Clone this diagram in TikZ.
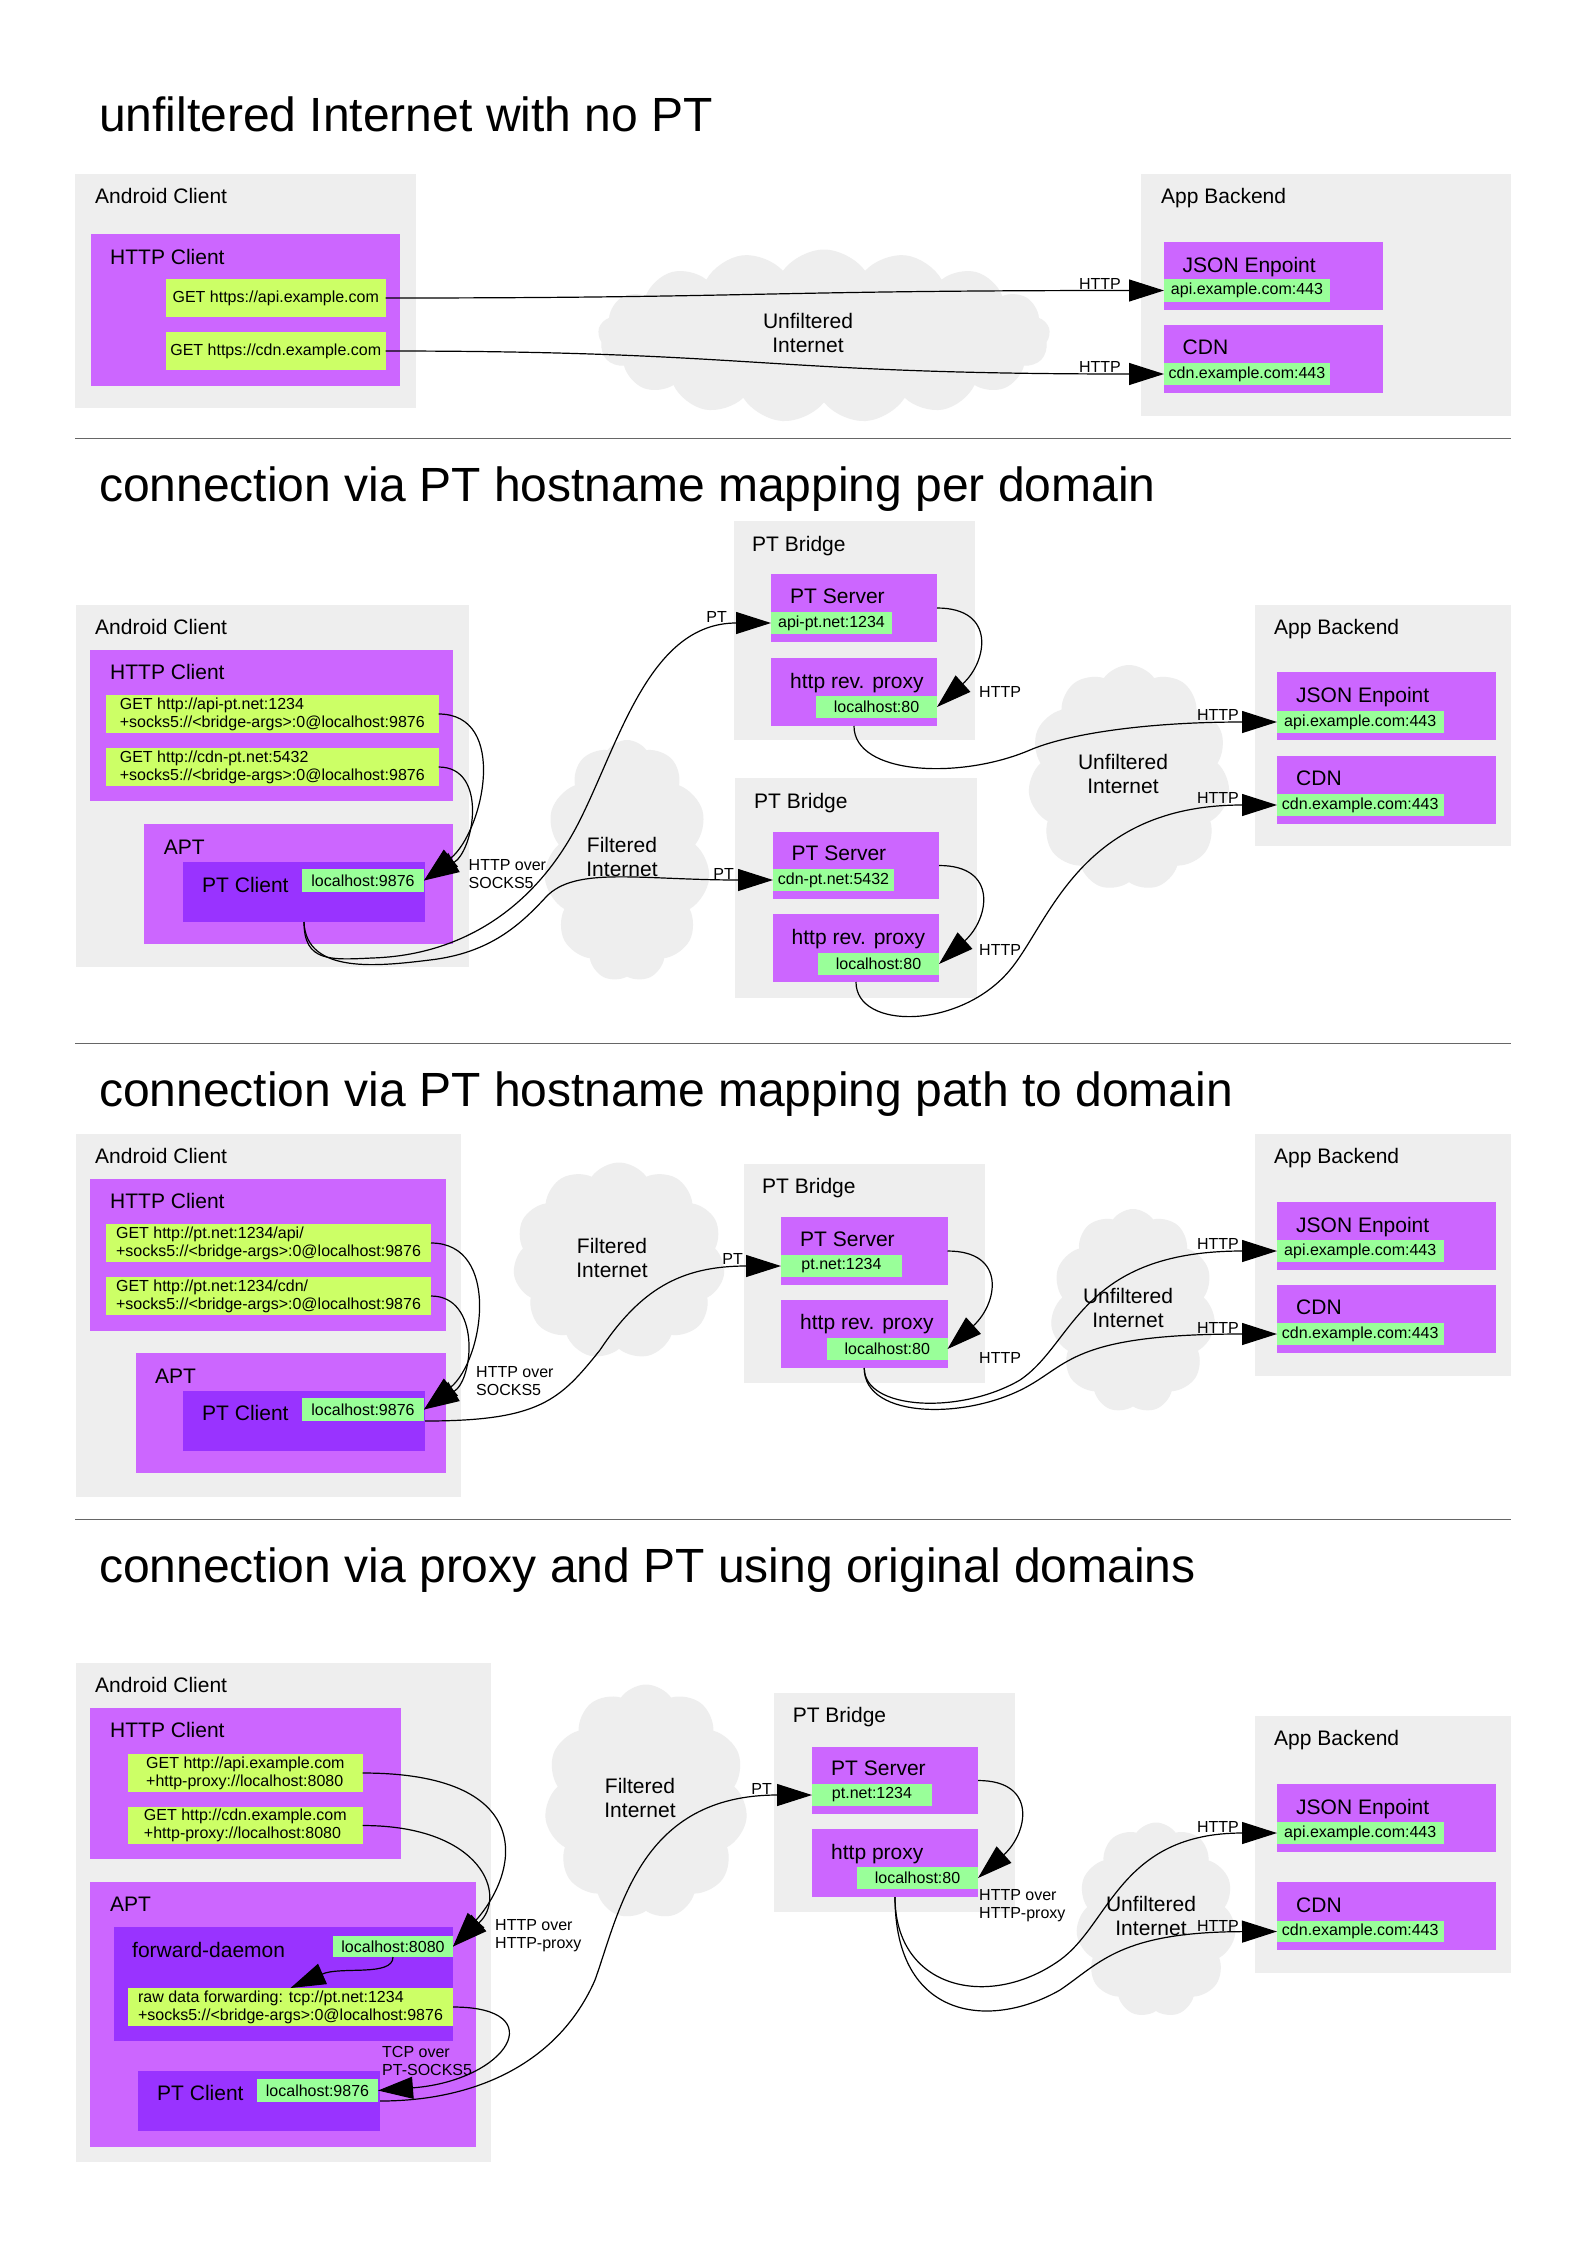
\documentclass[tikz,border=0pt]{standalone}
\usepackage{fontspec}
\setmainfont{Liberation Sans}
\usetikzlibrary{arrows.meta,shapes.symbols}
\definecolor{cgrey}{HTML}{EEEEEE}
\definecolor{cpurp}{HTML}{CC66FF}
\definecolor{cdark}{HTML}{9933FF}
\definecolor{cyel}{HTML}{CCFF66}
\definecolor{cgreen}{HTML}{99FF99}
\definecolor{csep}{HTML}{666666}
\newcommand\mkbox[7]{\node[#1,anchor=north west,inner sep=0pt,outer sep=0pt,minimum width={#5-#3},minimum height={#6-#4}] (#2) at (#3,#4) {#7};}
\tikzset{
 grp/.style={fill=cgrey},
 purp/.style={fill=cpurp},
 dark/.style={fill=cdark},
 yel/.style={fill=cyel,align=left,font=\fontsize{16}{18}\selectfont},
 grn/.style={fill=cgreen,font=\fontsize{16}{18}\selectfont},
 lbl/.style={anchor=base west,inner sep=0pt,font=\fontsize{21}{24}\selectfont},
 ttl/.style={anchor=base west,inner sep=0pt,font=\fontsize{48}{56}\selectfont},
 elbl/.style={anchor=base east,inner sep=0pt,font=\fontsize{16}{18}\selectfont},
 elblw/.style={anchor=base west,inner sep=0pt,font=\fontsize{16}{18}\selectfont},
 elbltwo/.style={anchor=north west,inner sep=0pt,align=left,font=\fontsize{16}{18}\selectfont},
 cld/.style={cloud,cloud puffs=11,cloud puff arc=110,cloud ignores aspect,fill=cgrey,draw=none,inner sep=0pt},
 cldtxt/.style={inner sep=0pt,align=center,font=\fontsize{21}{23.5}\selectfont},
 conn/.style={draw=black,line width=1.2pt,-{Triangle[length=35pt,width=22pt]}},
 sepline/.style={draw=csep,line width=1.5pt},
}
\begin{document}
\begin{tikzpicture}[x=1pt,y=-1pt]
\useasboundingbox (0,0) rectangle (1588,2246);
\fill[white] (0,0) rectangle (1588,2246);

% ---------------- titles and separators
\node[ttl] (t1) at (99,131) {unfiltered Internet with no PT};
\node[ttl] (t2) at (99,501.7) {connection via PT hostname mapping per domain};
\node[ttl] (t3) at (99,1106) {connection via PT hostname mapping path to domain};
\node[ttl] (t4) at (99,1582.7) {connection via proxy and PT using original domains};
\coordinate (s1a) at (75,438.3); \coordinate (s1b) at (1511,438.3);
\coordinate (s2a) at (75,1043.3); \coordinate (s2b) at (1511,1043.3);
\coordinate (s3a) at (75,1519.3); \coordinate (s3b) at (1511,1519.3);
\draw[sepline] (s1a) -- (s1b);
\draw[sepline] (s2a) -- (s2b);
\draw[sepline] (s3a) -- (s3b);

% ---------------- clusters
\mkbox{grp}{ac1}{75}{174}{416}{408}{}
\mkbox{grp}{ab1}{1141}{174}{1511}{416}{}
\mkbox{grp}{ac2}{75.6}{605}{468.5}{967}{}
\mkbox{grp}{br2a}{733.7}{521}{975}{740}{}
\mkbox{grp}{br2b}{735}{778}{977}{998}{}
\mkbox{grp}{ab2}{1255}{605}{1511}{846}{}
\mkbox{grp}{ac3}{75.6}{1134}{461}{1497}{}
\mkbox{grp}{br3}{744}{1164}{985}{1383}{}
\mkbox{grp}{ab3}{1255}{1134}{1511}{1376}{}
\mkbox{grp}{ac4}{75.6}{1663}{491}{2162}{}
\mkbox{grp}{br4}{774}{1693}{1015}{1912}{}
\mkbox{grp}{ab4}{1255}{1716}{1511}{1973}{}

% ---------------- clouds
\node[cld,cloud puffs=17,minimum width=452pt,minimum height=173pt] (cl1) at (824,336) {};
\node[cld,minimum width=166pt,minimum height=242pt] (cl2) at (627,861) {};
\node[cld,minimum width=202pt,minimum height=226pt] (cl3) at (1129,778) {};
\node[cld,minimum width=212pt,minimum height=197pt] (cl4) at (619,1261) {};
\node[cld,minimum width=165pt,minimum height=204pt] (cl5) at (1133,1311) {};
\node[cld,minimum width=203pt,minimum height=235pt] (cl6) at (646,1802) {};
\node[cld,minimum width=160pt,minimum height=195pt] (cl7) at (1156,1920) {};
\node[cldtxt] (cl1t) at (808,333) {Unfiltered\\Internet};
\node[cldtxt] (cl2t) at (622,857) {Filtered\\Internet};
\node[cldtxt] (cl3t) at (1123,774) {Unfiltered\\Internet};
\node[cldtxt] (cl4t) at (612,1258) {Filtered\\Internet};
\node[cldtxt] (cl5t) at (1128,1308) {Unfiltered\\Internet};
\node[cldtxt] (cl6t) at (640,1798) {Filtered\\Internet};
\node[cldtxt] (cl7t) at (1151,1916) {Unfiltered\\Internet};

% ---------------- section 1 boxes
\mkbox{purp}{hc1}{91}{234}{400}{386}{}
\mkbox{yel}{g1a}{166}{279}{385.5}{317}{GET https://api.example.com}
\mkbox{yel}{g1b}{166}{332}{385.5}{370}{GET https://cdn.example.com}
\mkbox{purp}{je1}{1164}{242}{1383}{310}{}
\mkbox{grn}{api1}{1164}{279}{1330}{302}{api.example.com:443}
\mkbox{purp}{cd1}{1164}{325}{1383}{393}{}
\mkbox{grn}{cdn1}{1164}{363}{1330}{385}{cdn.example.com:443}

% ---------------- section 2 boxes
\mkbox{purp}{hc2}{90}{650}{453}{801}{}
\mkbox{yel}{g2a}{106}{695}{438.6}{733}{GET http://api-pt.net:1234\\+socks5://<bridge-args>:0@localhost:9876}
\mkbox{yel}{g2b}{106}{748}{438.6}{786}{GET http://cdn-pt.net:5432\\+socks5://<bridge-args>:0@localhost:9876}
\mkbox{purp}{apt2}{143.5}{824}{453}{944}{}
\mkbox{dark}{ptc2}{183}{862}{425}{922}{}
\mkbox{grn}{lh2}{302}{869}{424}{892}{localhost:9876}
\mkbox{purp}{ps2a}{771}{574}{937}{642}{}
\mkbox{grn}{pg2a}{771}{612}{892}{634}{api-pt.net:1234}
\mkbox{purp}{rp2a}{771}{658}{937}{726}{}
\mkbox{grn}{lg2a}{816}{696}{937}{718}{localhost:80}
\mkbox{purp}{ps2b}{773}{832}{939}{899}{}
\mkbox{grn}{pg2b}{773}{869}{894}{891}{cdn-pt.net:5432}
\mkbox{purp}{rp2b}{773}{914}{939}{982}{}
\mkbox{grn}{lg2b}{818}{953}{939}{975}{localhost:80}
\mkbox{purp}{je2}{1277}{672}{1496}{740}{}
\mkbox{grn}{api2}{1277}{711}{1443.5}{733}{api.example.com:443}
\mkbox{purp}{cd2}{1277}{756}{1496}{824}{}
\mkbox{grn}{cdn2}{1277}{794}{1443.5}{816}{cdn.example.com:443}

% ---------------- section 3 boxes
\mkbox{purp}{hc3}{90}{1179}{446}{1331}{}
\mkbox{yel}{g3a}{106}{1224}{431}{1262}{GET http://pt.net:1234/api/\\+socks5://<bridge-args>:0@localhost:9876}
\mkbox{yel}{g3b}{106}{1277}{431}{1315}{GET http://pt.net:1234/cdn/\\+socks5://<bridge-args>:0@localhost:9876}
\mkbox{purp}{apt3}{136}{1353}{446}{1473}{}
\mkbox{dark}{ptc3}{183}{1391}{425}{1451}{}
\mkbox{grn}{lh3}{302}{1398}{424}{1421}{localhost:9876}
\mkbox{purp}{ps3}{781}{1217}{947.5}{1285}{}
\mkbox{grn}{pg3}{781}{1255}{902}{1277}{pt.net:1234}
\mkbox{purp}{rp3}{781}{1300}{947.5}{1368}{}
\mkbox{grn}{lg3}{827}{1338}{947.5}{1360}{localhost:80}
\mkbox{purp}{je3}{1277}{1202}{1496}{1270}{}
\mkbox{grn}{api3}{1277}{1240}{1443.5}{1262}{api.example.com:443}
\mkbox{purp}{cd3}{1277}{1285}{1496}{1353}{}
\mkbox{grn}{cdn3}{1277}{1323}{1443.5}{1345}{cdn.example.com:443}

% ---------------- section 4 boxes
\mkbox{purp}{hc4}{90}{1708}{400.6}{1859}{}
\mkbox{yel}{g4a}{128}{1754}{362.7}{1792}{GET http://api.example.com\\+http-proxy://localhost:8080}
\mkbox{yel}{g4b}{128}{1807}{362.7}{1844}{GET http://cdn.example.com\\+http-proxy://localhost:8080}
\mkbox{purp}{apt4}{90}{1882}{476}{2147}{}
\mkbox{dark}{fd4}{113.6}{1927}{453}{2041}{}
\mkbox{grn}{lh8}{333}{1936}{453}{1957}{localhost:8080}
\mkbox{yel}{raw4}{128}{1988}{453}{2026}{raw data forwarding: tcp://pt.net:1234\\+socks5://<bridge-args>:0@localhost:9876}
\mkbox{dark}{ptc4}{138}{2071}{380}{2131}{}
\mkbox{grn}{lh4}{257}{2079}{378}{2102}{localhost:9876}
\mkbox{purp}{ps4}{812}{1747}{978}{1814}{}
\mkbox{grn}{pg4}{812}{1784}{932}{1806}{pt.net:1234}
\mkbox{purp}{hp4}{812}{1829}{978}{1897}{}
\mkbox{grn}{lg4}{857}{1867}{978}{1889}{localhost:80}
\mkbox{purp}{je4}{1277}{1784}{1496}{1852}{}
\mkbox{grn}{api4}{1277}{1822}{1443.5}{1844}{api.example.com:443}
\mkbox{purp}{cd4}{1277}{1882}{1496}{1950}{}
\mkbox{grn}{cdn4}{1277}{1921}{1443.5}{1942}{cdn.example.com:443}

% ---------------- box labels
\node[lbl] (l1) at (95,203.5) {Android Client};
\node[lbl] (l2) at (110,264.5) {HTTP Client};
\node[lbl] (l3) at (1161,203.5) {App Backend};
\node[lbl] (l4) at (1182.5,272.5) {JSON Enpoint};
\node[lbl] (l5) at (1182.5,354.5) {CDN};

\node[lbl] (l6) at (95,634) {Android Client};
\node[lbl] (l7) at (110,679.5) {HTTP Client};
\node[lbl] (l8) at (163.6,854.5) {APT};
\node[lbl] (l9) at (202,892.5) {PT Client};
\node[lbl] (l10) at (752,551.5) {PT Bridge};
\node[lbl] (l11) at (790,603.5) {PT Server};
\node[lbl] (l12) at (790,688.5) {http rev. proxy};
\node[lbl] (l13) at (754,808.5) {PT Bridge};
\node[lbl] (l14) at (791.5,860.5) {PT Server};
\node[lbl] (l15) at (791.5,944.5) {http rev. proxy};
\node[lbl] (l16) at (1274,634.5) {App Backend};
\node[lbl] (l17) at (1296,702.5) {JSON Enpoint};
\node[lbl] (l18) at (1296,785.5) {CDN};

\node[lbl] (l19) at (95,1163.5) {Android Client};
\node[lbl] (l20) at (110,1208.5) {HTTP Client};
\node[lbl] (l21) at (155,1383.5) {APT};
\node[lbl] (l22) at (202,1420.5) {PT Client};
\node[lbl] (l23) at (762,1193.5) {PT Bridge};
\node[lbl] (l24) at (800,1246.5) {PT Server};
\node[lbl] (l25) at (800,1329.5) {http rev. proxy};
\node[lbl] (l26) at (1274,1163.5) {App Backend};
\node[lbl] (l27) at (1296,1232.5) {JSON Enpoint};
\node[lbl] (l28) at (1296,1314.5) {CDN};

\node[lbl] (l29) at (95,1692.5) {Android Client};
\node[lbl] (l30) at (110,1737.5) {HTTP Client};
\node[lbl] (l31) at (110,1911.5) {APT};
\node[lbl] (l32) at (132,1957.5) {forward-daemon};
\node[lbl] (l33) at (157,2100.5) {PT Client};
\node[lbl] (l34) at (792.6,1722.5) {PT Bridge};
\node[lbl] (l35) at (831,1775.5) {PT Server};
\node[lbl] (l36) at (831,1859.5) {http proxy};
\node[lbl] (l37) at (1274,1745.5) {App Backend};
\node[lbl] (l38) at (1296,1814.5) {JSON Enpoint};
\node[lbl] (l39) at (1296,1912.5) {CDN};

% ---------------- connectors section 1
\draw[conn] (g1a.east) .. controls (760,298) and (760,290.5) .. (api1.west);
\draw[conn] (g1b.east) .. controls (760,351) and (760,374) .. (cdn1.west);

% ---------------- connectors section 2
\draw[conn] (g2a.east) .. controls +(70,0) and +(60,-50) .. (lh2.east);
\draw[conn] (g2b.east) .. controls +(50,0) and +(50,-30) .. (lh2.east);
\draw[conn] (ptc2.south) .. controls (304,962) and (330,960) .. (372,958) .. controls (470,955) and (540,900) .. (580,820) .. controls (620,740) and (650,623) .. (pg2a.west);
\draw[conn] (ptc2.south) .. controls (306,975) and (380,966) .. (430,960) .. controls (490,953) and (520,925) .. (546,897) .. controls (575,866) and (640,880) .. (pg2b.west);
\draw[conn] (ps2a.east) .. controls +(60,0) and +(50,-45) .. (lg2a.east);
\draw[conn] (ps2b.east) .. controls +(60,0) and +(50,-45) .. (lg2b.east);
\draw[conn] (rp2a.south) .. controls (854,775) and (960,780) .. (1030,750) .. controls (1070,733) and (1150,722) .. (api2.west);
\draw[conn] (rp2b.south) .. controls (856,1030) and (960,1030) .. (1010,970) .. controls (1050,922) and (1080,805) .. (cdn2.west);

% ---------------- connectors section 3
\draw[conn] (g3a.east) .. controls +(70,0) and +(60,-50) .. (lh3.east);
\draw[conn] (g3b.east) .. controls +(50,0) and +(50,-30) .. (lh3.east);
\draw[conn] (ptc3.east) .. controls (540,1421) and (560,1400) .. (600,1350) .. controls (640,1290) and (680,1266) .. (pg3.west);
\draw[conn] (ps3.east) .. controls +(60,0) and +(50,-45) .. (lg3.east);
\draw[conn] (rp3.south) .. controls (864,1410) and (960,1415) .. (1020,1380) .. controls (1075,1343) and (1080,1251) .. (api3.west);
\draw[conn] (rp3.south) .. controls (864,1420) and (970,1420) .. (1030,1385) .. controls (1070,1362) and (1080,1334) .. (cdn3.west);

% ---------------- connectors section 4
\draw[conn] (g4a.east) .. controls +(170,0) and +(70,-80) .. (lh8.east);
\draw[conn] (g4b.east) .. controls +(120,0) and +(55,-50) .. (lh8.east);
\draw[conn] (lh8.south) .. controls +(0,20) and +(50,-22) .. (raw4.north);
\draw[conn] (raw4.east) .. controls +(100,0) and +(130,-10) .. (lh4.east);
\draw[conn] (ptc4.east) .. controls (480,2101) and (560,2060) .. (595,1980) .. controls (620,1910) and (640,1795) .. (pg4.west);
\draw[conn] (ps4.east) .. controls +(60,0) and +(50,-45) .. (lg4.east);
\draw[conn] (hp4.south) .. controls (895,1990) and (990,2010) .. (1060,1960) .. controls (1110,1924) and (1120,1833) .. (api4.west);
\draw[conn] (hp4.south) .. controls (895,2020) and (990,2030) .. (1060,1990) .. controls (1100,1963) and (1120,1932) .. (cdn4.west);

% ---------------- connector labels
\node[elbl] (h1a) at (1121,289) {HTTP};
\node[elbl] (h1b) at (1121,372.5) {HTTP};
\node[elbltwo] (hs2) at (468.5,859) {HTTP over\\SOCKS5};
\node[elbl] (pt2a) at (727,622.7) {PT};
\node[elbl] (pt2b) at (734,879) {PT};
\node[elblw] (hb2a) at (979,697) {HTTP};
\node[elblw] (hb2b) at (979,955) {HTTP};
\node[elbl] (h2a) at (1239,720) {HTTP};
\node[elbl] (h2b) at (1239,803) {HTTP};
\node[elbltwo] (hs3) at (476,1366) {HTTP over\\SOCKS5};
\node[elbl] (pt3) at (743,1264) {PT};
\node[elblw] (hb3) at (979,1363) {HTTP};
\node[elbl] (h3a) at (1239,1249) {HTTP};
\node[elbl] (h3b) at (1239,1333) {HTTP};
\node[elbltwo] (hp4l) at (495,1919) {HTTP over\\HTTP-proxy};
\node[elbltwo] (tcp4) at (382,2046) {TCP over\\PT-SOCKS5};
\node[elbl] (pt4) at (772,1794) {PT};
\node[elbltwo] (hb4) at (979,1889) {HTTP over\\HTTP-proxy};
\node[elbl] (h4a) at (1239,1832) {HTTP};
\node[elbl] (h4b) at (1239,1931) {HTTP};
\end{tikzpicture}
\end{document}
